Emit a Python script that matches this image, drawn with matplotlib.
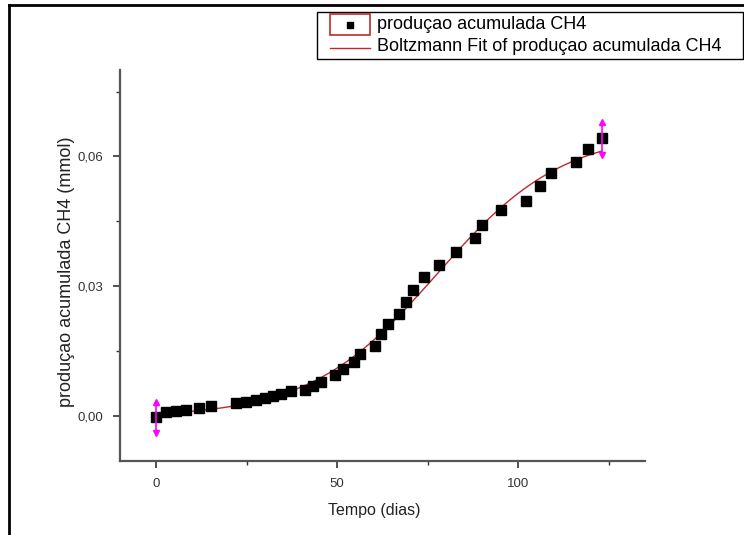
import numpy as np
import matplotlib
matplotlib.use('Agg')
import matplotlib.pyplot as plt
from matplotlib.lines import Line2D
from matplotlib.patches import Rectangle
from matplotlib.ticker import FuncFormatter, MultipleLocator

plt.rcParams['font.family'] = ['Liberation Sans', 'DejaVu Sans']

# cumulative CH4 production
dias = [0.0, 2.7, 5.5, 8.3, 11.9, 15.2, 22.0, 24.8, 27.6, 30.0, 32.2, 34.5,
        37.3, 41.0, 43.3, 45.6, 49.5, 51.5, 54.6, 56.2, 60.3, 62.1, 64.1,
        67.1, 69.0, 71.0, 74.1, 78.2, 82.9, 88.1, 90.0, 95.1, 102.2, 106.1,
        109.1, 115.9, 119.2, 123.2]
ch4 = [-0.0004, 0.0008, 0.0011, 0.0014, 0.0018, 0.0023, 0.0029, 0.0031,
       0.0036, 0.0041, 0.0045, 0.0051, 0.0056, 0.0060, 0.0068, 0.0077,
       0.0094, 0.0107, 0.0125, 0.0142, 0.0162, 0.0188, 0.0211, 0.0236,
       0.0263, 0.0291, 0.0320, 0.0349, 0.0379, 0.0411, 0.0441, 0.0475,
       0.0496, 0.0531, 0.0561, 0.0586, 0.0616, 0.0642]

# error bars shown only on first and last points
err_idx = [0, -1]
err_val = [0.0036, 0.0038]

# Boltzmann fit parameters
A1 = -0.00035
A2 = 0.0658
x0 = 77.5
dx = 17.5

x = np.array(dias)
y = np.array(ch4)

xf = np.linspace(x[0], x[-1], 300)
yf = A2 + (A1 - A2) / (1 + np.exp((xf - x0) / dx))

fig = plt.figure(figsize=(7.44, 5.35), dpi=100)
ax = fig.add_axes([120 / 744, 74 / 535, 525 / 744, 391 / 535])

ax.plot(xf, yf, color='#c0282d', lw=1.0, zorder=2)
ax.plot(x, y, 's', color='black', ms=7, zorder=3)

for i, e in zip(err_idx, err_val):
    ax.plot([x[i], x[i]], [y[i] - e, y[i] + e], color='#ff00ff', lw=1.2, zorder=4)
    ax.plot(x[i], y[i] + e, '^', color='#ff00ff', ms=4, zorder=4)
    ax.plot(x[i], y[i] - e, 'v', color='#ff00ff', ms=4, zorder=4)

ax.set_xlim(-10, 135)
ax.set_ylim(-0.0105, 0.08)

for s in ['top', 'right']:
    ax.spines[s].set_visible(False)
for s in ['left', 'bottom']:
    ax.spines[s].set_color('#555555')
    ax.spines[s].set_linewidth(1.6)

ax.xaxis.set_major_locator(MultipleLocator(50))
ax.xaxis.set_minor_locator(MultipleLocator(25))
ax.yaxis.set_major_locator(MultipleLocator(0.03))
ax.yaxis.set_minor_locator(MultipleLocator(0.015))
ax.yaxis.set_major_formatter(FuncFormatter(lambda v, p: f'{v:.2f}'.replace('.', ',').replace('-0,00', '0,00')))
ax.tick_params(which='major', direction='out', length=5, width=1.2, color='#333333',
               labelsize=9.5, labelcolor='#333333', pad=7)
ax.tick_params(which='minor', direction='out', length=3, width=1.0, color='#333333')

fig.text(374 / 744, 1 - 510 / 535, 'Tempo (dias)', ha='center', va='center', fontsize=11.5, color='#222222')
fig.text(67 / 744, 1 - 272 / 535, 'produçao acumulada CH4 (mmol)', ha='center', va='center',
         rotation=90, fontsize=13, color='#222222')

# legend drawn in figure pixels
def fx(px):
    return px / 744

def fy(py):
    return 1 - py / 535

fig.patches.append(Rectangle((fx(317), fy(59)), fx(743) - fx(317), fy(12) - fy(59),
                             transform=fig.transFigure, fill=False, ec='black', lw=1.0))
fig.patches.append(Rectangle((fx(330), fy(35)), fx(370) - fx(330), fy(14) - fy(35),
                             transform=fig.transFigure, fill=False, ec='#c0282d', lw=1.2))
fig.lines.append(Line2D([fx(350)], [fy(24.5)], marker='s', color='black', ms=5,
                        transform=fig.transFigure))
fig.lines.append(Line2D([fx(330), fx(370)], [fy(48), fy(48)], color='#c0282d', lw=1.0,
                        transform=fig.transFigure))
fig.text(fx(377), fy(24.5), 'produçao acumulada CH4', ha='left', va='center', fontsize=13)
fig.text(fx(377), fy(47), 'Boltzmann Fit of produçao acumulada CH4', ha='left', va='center', fontsize=13)

# screenshot frame
fig.lines.append(Line2D([fx(9), fx(744)], [fy(5), fy(5)], color='black', lw=2, transform=fig.transFigure))
fig.lines.append(Line2D([fx(9), fx(9)], [fy(5), fy(535)], color='black', lw=2, transform=fig.transFigure))

fig.savefig('out.png', dpi=100)
